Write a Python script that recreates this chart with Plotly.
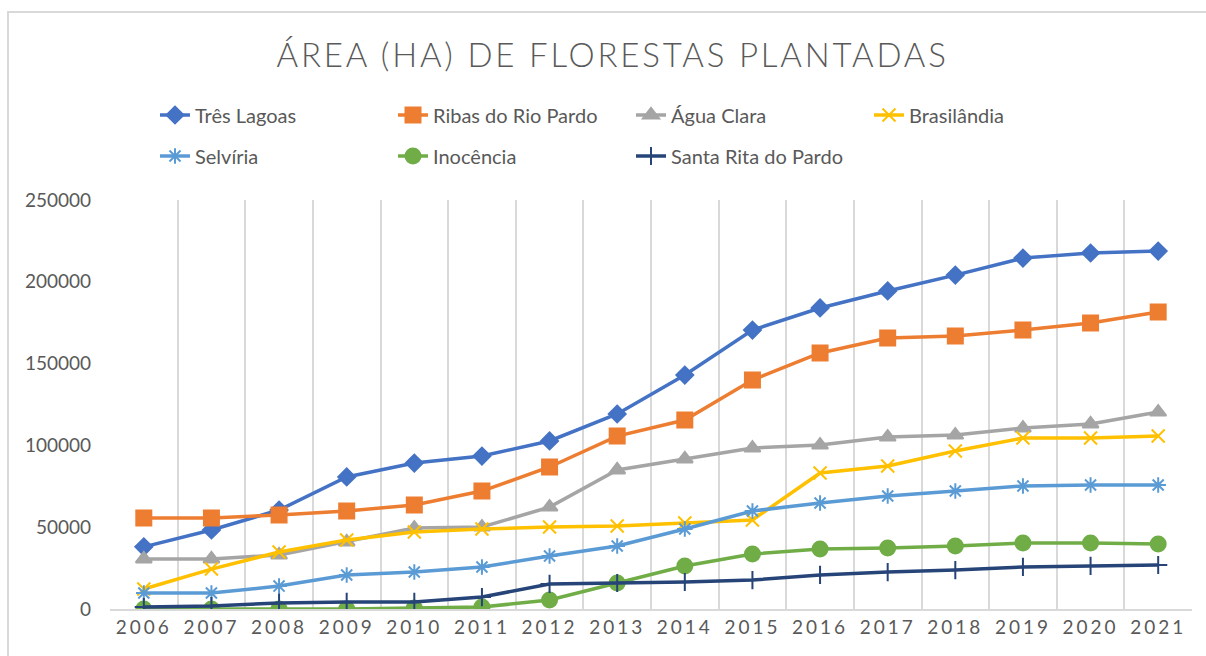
import plotly.graph_objects as go

years = [str(y) for y in range(2006, 2022)]

tres_lagoas = [38000, 48300, 60500, 80700, 89200, 93500, 102700, 119200, 143000, 170500, 184000, 194400, 204100, 214500, 217600, 218800]
ribas = [55600, 55600, 57500, 59900, 63600, 72100, 86800, 105700, 115500, 140000, 156500, 165600, 166900, 170500, 174800, 181500]
agua_clara = [30600, 30600, 33000, 41000, 49500, 50100, 62300, 85000, 91700, 98400, 100200, 105100, 106300, 110600, 113100, 120400]
brasilandia = [12200, 24400, 34800, 42200, 47100, 48900, 50100, 50700, 52600, 54400, 83100, 87400, 96600, 104500, 104500, 105700]
selviria = [9800, 9800, 14000, 20800, 22600, 25700, 32400, 38500, 48900, 59900, 64800, 69100, 72100, 75200, 75800, 75800]
inocencia = [0, 0, 0, 0, 600, 1200, 5500, 15900, 26300, 33600, 36700, 37300, 38500, 40300, 40300, 39700]
santa_rita = [1200, 1800, 3700, 4300, 4300, 7300, 15300, 15900, 16500, 17700, 20800, 22600, 23800, 25700, 26300, 26900]

series = [
    ("Três Lagoas", tres_lagoas, "#4472C4", "diamond", 13, "legend"),
    ("Ribas do Rio Pardo", ribas, "#ED7D31", "square", 15, "legend"),
    ("Água Clara", agua_clara, "#A5A5A5", "triangle-up", 14, "legend"),
    ("Brasilândia", brasilandia, "#FFC000", "x-thin", 13, "legend"),
    ("Selvíria", selviria, "#5B9BD5", "asterisk", 13, "legend2"),
    ("Inocência", inocencia, "#70AD47", "circle", 15, "legend2"),
    ("Santa Rita do Pardo", santa_rita, "#264478", "cross-thin", 13, "legend2"),
]

fig = go.Figure()
for name, vals, color, sym, size, lg in series:
    fig.add_trace(go.Scatter(
        x=years, y=vals, name=name, mode="lines+markers",
        line=dict(color=color, width=3.5),
        marker=dict(symbol=sym, size=size, color=color,
                    line=dict(color=color, width=2)),
        legend=lg,
    ))

W, H = 1206, 656
L, R, T, B = 110, 14, 200, 47
EW = 193
LX = 155

fig.update_layout(
    width=W, height=H,
    margin=dict(l=L, r=R, t=T, b=B),
    paper_bgcolor="white", plot_bgcolor="white",
    font=dict(family="Lato, 'Open Sans', sans-serif", color="#595959", size=17),
    title=dict(text="ÁREA (HA) DE FLORESTAS PLANTADAS", x=0.508, xanchor="center",
               y=1 - 55 / H, yanchor="middle", yref="container",
               font=dict(size=33, color="#595959", weight=300)),
    legend=dict(orientation="h", x=LX / W, xanchor="left", y=1 - 115 / H, yanchor="middle",
                xref="container", yref="container", entrywidth=EW, entrywidthmode="pixels",
                font=dict(size=20, color="#595959"), bgcolor="rgba(0,0,0,0)"),
    legend2=dict(orientation="h", x=LX / W, xanchor="left", y=1 - 156 / H, yanchor="middle",
                 xref="container", yref="container", entrywidth=EW, entrywidthmode="pixels",
                 font=dict(size=20, color="#595959"), bgcolor="rgba(0,0,0,0)"),
    xaxis=dict(type="category", range=[-0.5, 15.5], tickson="boundaries",
               showgrid=True, gridcolor="#D9D9D9", gridwidth=1.5,
               showline=True, linecolor="#D9D9D9", linewidth=1.5,
               ticks="", tickfont=dict(size=19, color="#595959"), fixedrange=True),
    yaxis=dict(range=[0, 250000], dtick=50000, tickformat="d", showgrid=False,
               zeroline=False, showline=False, ticks="", ticklabelstandoff=18,
               tickfont=dict(size=19, color="#595959")),
    showlegend=True,
)

fig.add_shape(type="rect", xref="paper", yref="paper",
              x0=(8 - L) / (W - L - R), x1=(1230 - L) / (W - L - R),
              y0=-(680 - (H - B)) / (H - T - B), y1=1 + (T - 12) / (H - T - B),
              line=dict(color="#D9D9D9", width=2), layer="below")

post = """
document.body.style.margin = '0';
var gd = document.getElementById('{plot_id}');
gd.querySelectorAll('.gtitle').forEach(function(e){ e.style.letterSpacing = '2.8px'; });
gd.querySelectorAll('.xtick text').forEach(function(e){ e.style.letterSpacing = '3px'; });
"""

fig.write_html("out.html", post_script=post, config={"displayModeBar": False})
